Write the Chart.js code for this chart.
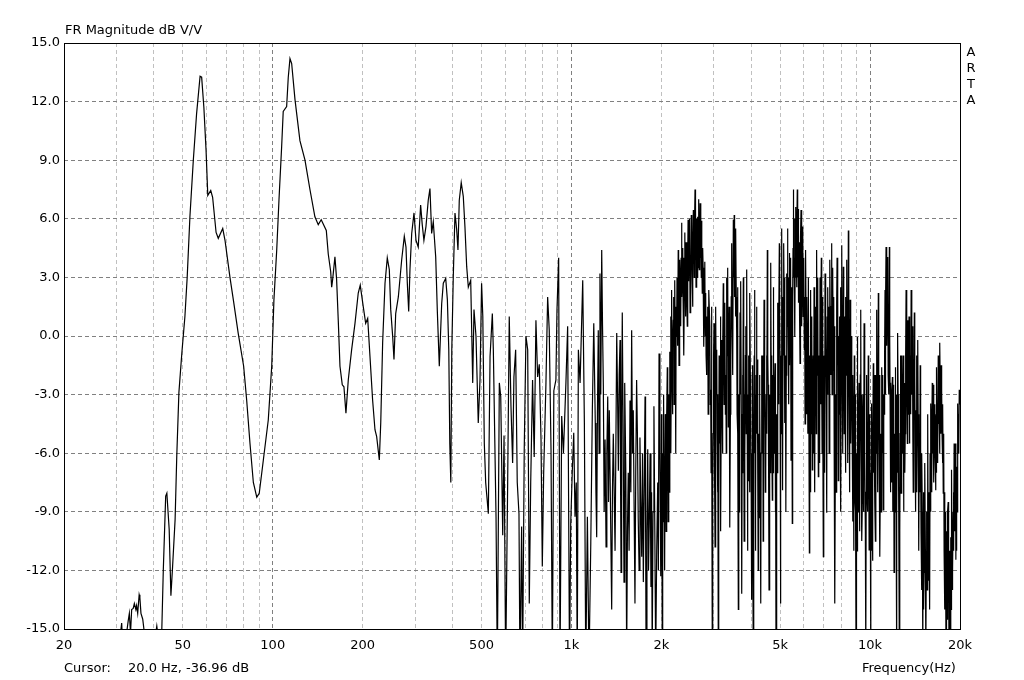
<!DOCTYPE html>
<html><head><meta charset="utf-8">
<script src="https://cdn.jsdelivr.net/npm/chart.js@4.4.1/dist/chart.umd.min.js"></script>
<style>
html,body{margin:0;padding:0;background:#fff;}
#wrap{position:relative;width:1024px;height:680px;overflow:hidden;font-family:"DejaVu Sans",sans-serif;font-size:13px;color:#000;background:#fff;}
#c{position:absolute;left:0;top:0;}
.t{position:absolute;line-height:15px;white-space:pre;}
</style></head><body>
<div id="wrap">
<canvas id="c" width="1024" height="680"></canvas>
<div class="t" style="left:65px;top:22px">FR Magnitude dB V/V</div>
<div class="t" style="left:963px;top:44px;width:16px;text-align:center;line-height:16px">A<br>R<br>T<br>A</div>
<div class="t" style="left:64px;top:660px">Cursor:</div>
<div class="t" style="left:128px;top:660px">20.0 Hz, -36.96 dB</div>
<div class="t" style="left:862px;top:660px">Frequency(Hz)</div>
</div>
<script>
// Low band 20 Hz - 500 Hz
const lowFreq = [
 20, 24, 28, 30.5, 31.2, 31.6, 32.8, 33.1, 33.4, 33.7,
 34.1, 34.4, 34.8, 35.0, 35.3, 35.7, 35.9, 36.2, 36.7, 37.1,
 38.5, 40.5, 40.9, 41.4, 42.5, 43.0, 43.8, 44.2, 45.0, 45.6,
 46.2, 47.1, 47.7, 48.5, 49.6, 50.8, 51.7, 52.8, 54.2, 55.6,
 57.1, 57.8, 58.8, 59.8, 60.6, 62.0, 62.9, 64.6, 65.7, 68.0,
 69.2, 71.9, 73.8, 76.6, 79.9, 81.8, 83.9, 86.1, 88.4, 90.1,
 93.0, 96.6, 99.2, 100.9, 103.1, 104.9, 107.1, 108.4, 111.3, 112.7,
 114.2, 115.7, 118.7, 123.3, 128.2, 133.2, 138.4, 142.0, 145.3, 151.1,
 153.4, 156.3, 157.5, 158.7, 161.5, 163.6, 165.7, 167.9, 170.9, 173.1,
 175.8, 179.0, 183.7, 188.5, 193.3, 196.3, 200.9, 204.7, 207.9, 211.6,
 216.0, 219.9, 222.8, 227.4, 229.9, 233.3, 237.6, 241.8, 245.6, 248.3,
 252.0, 254.6, 258.0, 263.3, 270.2, 275.7, 279.3, 282.2, 285.2, 288.0,
 291.9, 297.1, 301.7, 307.0, 312.7, 316.6, 320.7, 325.8, 331.6, 336.0,
 340.4, 344.7, 351.2, 355.5, 361.1, 367.8, 372.4, 379.4, 384.3, 388.5,
 391.5, 394.6, 397.6, 402.2, 407.5, 412.8, 417.0, 421.2, 427.6, 434.4,
 440.0, 446.0, 451.6, 460.0, 467.2, 471.8, 479.1, 487.6, 494.2
];
const lowDb = [
 -36.96, -28, -20, -16, -14.7, -16.5, -14.6, -14.2, -15.2, -14.0,
 -13.95, -13.7, -14.0, -13.8, -14.2, -13.25, -13.4, -14.2, -14.5, -15.1,
 -17, -15.3, -14.85, -15.5, -15.1, -12.0, -8.2, -8.05, -9.9, -13.3,
 -11.8, -9.4, -6.2, -2.9, -0.9, 1.0, 3.0, 6.1, 9.0, 11.4,
 13.3, 13.25, 11.7, 9.5, 7.2, 7.45, 7.1, 5.3, 5.0, 5.5,
 4.9, 3.0, 1.85, 0.15, -1.55, -3.3, -5.5, -7.5, -8.25, -8.05,
 -6.35, -4.3, -1.55, 1.85, 4.4, 6.95, 9.7, 11.5, 11.75, 13.25,
 14.2, 13.95, 12.1, 10.0, 9.0, 7.5, 6.1, 5.7, 5.95, 5.4,
 4.2, 3.3, 2.5, 2.9, 4.05, 2.9, 0.8, -1.55, -2.5, -2.6,
 -3.95, -2.25, -0.7, 0.65, 2.2, 2.6, 1.5, 0.65, 0.9, -1.05,
 -3.3, -4.8, -5.15, -6.35, -4.45, -0.35, 2.7, 4.0, 3.4, 1.35,
 0.0, -1.2, 1.15, 2.0, 3.9, 5.1, 4.55, 2.7, 1.25, 3.4,
 5.25, 6.3, 4.9, 4.55, 6.7, 5.7, 4.9, 5.6, 6.95, 7.55,
 5.25, 5.85, 4.05, 1.35, -1.55, 1.65, 2.7, 2.95, 1.85, -0.7,
 -5.5, -7.5, -0.7, 3.05, 6.3, 5.45, 4.4, 6.95, 7.85, 7.15,
 5.6, 3.55, 2.5, 2.85, -2.4, 1.35, 0.0, -4.45, -2.25
];
// Mid band 500 Hz - 2 kHz
const midFreq = [
 500.3, 505, 510.9, 516.3, 527.0, 534.0, 543.5, 547.7, 559.2, 564.8,
 573.6, 579.9, 588.8, 594.8, 602.3, 611.7, 619.2, 627.5, 635.5, 641.9,
 650.5, 658.6, 667.4, 672.4, 681.2, 686.3, 695, 704.3, 713.8, 722.6,
 730.6, 741.1, 750.6, 760.6, 770.6, 780.5, 791.0, 798.9, 807.4, 821.7,
 832.5, 842.8, 854.4, 863.1, 873.2, 887.3, 894.5, 906.3, 915.8, 927.7,
 940.3, 958.4, 971.3, 985.5, 994.6, 1007, 1018, 1028, 1038, 1046,
 1055, 1069, 1091, 1105, 1117, 1131, 1145, 1161, 1175, 1188,
 1202, 1208, 1215, 1222, 1230, 1238, 1246, 1254, 1263, 1271,
 1279, 1287, 1296, 1306, 1314, 1323, 1331, 1339, 1352, 1364,
 1372, 1381, 1400, 1418, 1427, 1436, 1445, 1455, 1460, 1466,
 1473, 1480, 1490, 1500, 1505, 1511, 1521, 1531, 1540, 1550,
 1560, 1571, 1581, 1591, 1601, 1611, 1622, 1632, 1642, 1653,
 1663, 1674, 1685, 1696, 1707, 1719, 1730, 1741, 1752, 1764,
 1771, 1778, 1790, 1801, 1812, 1823, 1834, 1846, 1855, 1864,
 1876, 1889, 1902, 1915, 1930, 1945, 1955, 1965, 1978, 1991
];
const midDb = [
 2.7, 1.0, -5.5, -7.5, -9.1, -1.05, 1.15, -0.7, -9.25, -17,
 -2.4, -3.1, -10.2, -5.1, -17, -7.5, 1.0, -3.6, -6.5, -2.1,
 -0.7, -7.5, -9.1, -17, -9.75, -17, -5.85, 0.0, -0.7, -13.7,
 -7.5, -2.25, -6.2, 0.8, -2.1, -1.45, -5.3, -11.8, -7.0, -2.4,
 2.0, 0.3, -5.8, -17, -2.8, -2.25, 1.3, 4.0, -17, -4.1,
 -6.0, -2.4, 0.5, -17, -9.6, -6.85, -4.95, -9.25, -7.5, -17,
 -0.7, -2.4, 2.85, -4.45, -17, -9.25, -17, -10.6, -3.8, 0.65,
 -4.45, -8.0, -10.3, -4.0, 0.3, -6.0, 3.2, -3.0, 4.4, 0.5,
 -2.6, -9.0, -5.3, -10.8, -6.0, -3.1, -8.5, -3.8, -9.0, -14.0,
 -8.0, -5.0, -11.0, 0.15, -3.0, -6.9, -2.0, -0.2, -7.0, -12.1,
 -4.0, 1.2, -5.0, -12.6, -8.0, -2.4, -7.0, -16.5, -10.0, -7.0,
 -11.0, -3.3, -8.0, 0.3, -6.0, -3.8, -9.0, -13.7, -7.0, -2.25,
 -5.0, -9.4, -12.0, -5.2, -8.5, -11.3, -6.0, -12.6, -8.0, -3.1,
 -9.0, -16.5, -10.0, -5.8, -12.0, -9.3, -6.0, -12.85, -8.0, -16.5,
 -9.0, -3.6, -10.0, -16.5, -11.0, -7.5, -12.0, -0.9, -6.0, -12.3
];
// 2.0 - 2.16 kHz
const hiAFreq = [
 2003, 2009, 2015, 2021, 2028, 2035, 2042, 2048, 2055, 2062,
 2069, 2075, 2081, 2088, 2094, 2101, 2107, 2114, 2121, 2126,
 2132, 2138, 2143, 2149, 2154, 2160
];
const hiADb = [
 -4.0, -10.0, -16.5, -6.0, -9.5, -3.0, -7.5, -11.0, -12.0, -4.0,
 -5.3, -10.0, -8.0, -4.0, -1.6, -6.0, -9.5, -3.0, -5.0, -8.0,
 -0.8, -5.0, -2.4, 1.0, -6.0, -2.0
];
// 2.16 - 2.9 kHz
const hiBFreq = [
 2165, 2172, 2179, 2186, 2193, 2200, 2207, 2214, 2221, 2228,
 2235, 2242, 2250, 2257, 2264, 2271, 2278, 2285, 2292, 2300,
 2307, 2315, 2322, 2330, 2337, 2344, 2351, 2359, 2366, 2374,
 2381, 2389, 2397, 2405, 2412, 2420, 2428, 2436, 2443, 2451,
 2458, 2468, 2477, 2487, 2496, 2504, 2512, 2520, 2529, 2537,
 2544, 2552, 2560, 2568, 2576, 2585, 2593, 2598, 2603, 2608,
 2613, 2622, 2630, 2639, 2647, 2655, 2663, 2672, 2680, 2689,
 2697, 2706, 2715, 2721, 2728, 2735, 2742, 2751, 2760, 2769,
 2778, 2787, 2796, 2806, 2815, 2824, 2832, 2841, 2850, 2860,
 2869, 2878, 2888
];
const hiBDb = [
 2.35, -1.0, -4.0, -0.5, 0.8, 2.0, -3.5, 0.0, 2.85, -1.0,
 -6.0, 1.5, -0.05, 3.0, 1.0, -0.5, 4.4, 2.0, -1.5, 1.5,
 3.9, 2.5, 0.5, 4.0, 5.8, 2.0, 3.0, 4.5, 1.7, 4.0,
 -1.0, 2.5, 5.3, 3.0, 1.0, 4.8, 3.9, 2.0, 0.5, 4.0,
 5.95, 2.8, 4.5, 6.0, 1.2, 3.8, 2.0, 6.2, 5.4, 3.0,
 1.5, 4.5, 6.45, 4.5, 3.0, 6.0, 7.5, 4.0, 5.0, 6.5,
 2.5, 6.0, 4.5, 3.0, 6.1, 3.5, 5.8, 7.0, 3.4, 5.0,
 6.8, 4.0, 5.3, 3.0, 5.9, 4.0, 2.2, 4.5, 3.5, 1.0,
 -0.55, 2.0, 3.8, 0.0, 2.2, -1.0, -2.0, 1.0, -1.2, 1.5,
 -4.0, 0.0, 2.35
];
// 2.9 - 5.0 kHz
const hiCFreq = [
 2907, 2916, 2926, 2935, 2944, 2953, 2963, 2972, 2982, 2992,
 3002, 3008, 3014, 3020, 3026, 3035, 3045, 3055, 3065, 3074,
 3084, 3093, 3103, 3113, 3123, 3133, 3144, 3154, 3164, 3174,
 3185, 3194, 3204, 3214, 3224, 3234, 3245, 3256, 3267, 3277,
 3288, 3299, 3310, 3320, 3330, 3341, 3351, 3362, 3373, 3384,
 3395, 3406, 3417, 3428, 3440, 3451, 3462, 3473, 3484, 3496,
 3507, 3518, 3530, 3541, 3553, 3564, 3576, 3587, 3598, 3610,
 3621, 3633, 3645, 3657, 3669, 3681, 3693, 3705, 3717, 3728,
 3740, 3751, 3763, 3775, 3787, 3799, 3812, 3824, 3837, 3849,
 3862, 3874, 3886, 3898, 3910, 3922, 3935, 3947, 3960, 3973,
 3986, 3999, 4012, 4024, 4037, 4049, 4062, 4072, 4083, 4093,
 4104, 4113, 4122, 4131, 4141, 4153, 4166, 4179, 4192, 4206,
 4220, 4234, 4248, 4262, 4276, 4290, 4304, 4317, 4330, 4343,
 4357, 4371, 4385, 4399, 4414, 4428, 4443, 4458, 4473, 4486,
 4500, 4514, 4528, 4543, 4558, 4573, 4588, 4603, 4618, 4633,
 4648, 4662, 4677, 4691, 4706, 4715, 4724, 4733, 4742, 4757,
 4773, 4789, 4805, 4814, 4823, 4832, 4842, 4858, 4874, 4890,
 4906, 4921, 4936, 4951, 4967, 4980, 4993, 5006
];
const hiCDb = [
 0.5, -3.5, -2.75, -7.0, 1.5, -4.0, -16.5, -8.0, -5.0, -1.0,
 0.65, -4.0, -3.0, -7.0, -10.8, -4.0, 1.5, -3.0, -0.7, -5.0,
 -8.0, -3.0, -16.5, -6.0, -1.0, -5.5, -2.4, 1.0, -10.0, -4.0,
 -0.2, -3.0, -6.0, -1.0, 2.7, -1.5, -3.5, -0.5, 1.7, -4.0,
 -2.0, -6.0, 3.0, -1.0, 0.5, 3.5, -4.65, -1.0, 1.5, -3.0,
 -9.8, -4.0, -1.0, 2.0, 4.75, 1.0, 2.5, -2.0, 5.95, 3.0,
 6.2, 2.0, 4.05, 1.0, 5.5, 2.0, 0.15, -4.0, 2.5, -5.0,
 -14.0, -3.0, -9.0, -4.0, 1.2, -3.0, 2.8, -4.0, -13.2, -7.0,
 -2.0, -6.0, 3.0, -2.0, -10.5, -3.0, -6.35, -1.0, 0.5, -5.0,
 3.4, -3.0, -11.0, -4.0, -7.4, -1.0, -4.0, -8.0, 2.2, -2.0,
 -3.5, -8.0, -13.5, -6.0, -1.5, -9.0, -16.5, -9.0, -5.0, -1.0,
 2.35, -6.0, -3.0, -11.0, -8.55, -2.0, 1.5, -5.0, -1.2, -7.0,
 -12.0, -5.0, -9.3, -2.0, -3.5, -8.0, -13.7, -6.0, -1.0, -6.0,
 -4.45, -1.0, -10.5, -5.0, 1.85, -4.0, -2.5, -8.0, -6.85, -3.0,
 -1.0, -5.0, 4.4, -1.0, -2.5, -7.0, -13.0, -6.0, -3.0, -7.0,
 3.75, -1.0, -2.0, -5.0, -8.4, -2.0, -4.0, -7.0, 2.5, -1.5,
 -6.0, -3.0, -1.4, -5.0, -9.0, -4.0, -16.5, -8.0, -4.0, -7.0,
 1.7, -2.0, -3.5, 0.5, 4.75, 1.0, -1.0, -5.0
];
// 5.0 - 6.2 kHz
const hiDFreq = [
 5019, 5028, 5038, 5048, 5058, 5068, 5078, 5088, 5098, 5111,
 5124, 5136, 5149, 5159, 5169, 5179, 5189, 5206, 5223, 5240,
 5258, 5274, 5290, 5306, 5323, 5333, 5343, 5353, 5364, 5382,
 5400, 5418, 5435, 5448, 5462, 5475, 5489, 5500, 5510, 5521,
 5532, 5550, 5568, 5586, 5604, 5615, 5626, 5637, 5648, 5662,
 5676, 5690, 5705, 5716, 5727, 5738, 5749, 5768, 5787, 5806,
 5826, 5837, 5848, 5860, 5871, 5890, 5910, 5930, 5949, 5968,
 5986, 6004, 6023, 6040, 6056, 6072, 6089, 6108, 6127, 6146,
 6165, 6189, 6213
];
const hiDDb = [
 -13.7, -2.0, -5.0, 1.0, 3.9, 5.5, -2.0, 2.0, -7.9, 0.5,
 -1.0, 2.0, 4.75, 1.0, -0.5, 3.0, -4.45, -1.0, -9.0, -2.0,
 3.2, 0.5, 5.5, 2.0, -1.1, 3.0, -3.5, 1.0, 4.25, -1.5,
 2.0, 4.0, -6.35, 1.0, -2.0, 2.5, -9.6, -3.0, 2.0, 4.5,
 7.5, 3.0, 4.0, 6.0, -0.05, 4.5, 3.0, 5.0, 6.6, 4.0,
 2.5, 5.5, 7.5, 3.0, 4.0, 6.5, 1.7, 3.0, 4.8, 1.0,
 -1.4, 3.5, 2.0, 5.0, 6.45, 2.5, 0.5, 3.5, 5.6, 1.0,
 2.0, 4.0, -0.7, 2.0, -4.5, 1.0, 4.4, 0.5, -4.0, 2.0,
 -1.4, -5.0, 3.0
];
// 6.2 - 10 kHz
const hiEFreq = [
 6262, 6279, 6296, 6313, 6330, 6349, 6368, 6387, 6406, 6427,
 6448, 6470, 6491, 6512, 6534, 6556, 6577, 6590, 6602, 6615,
 6628, 6648, 6668, 6689, 6709, 6731, 6753, 6776, 6798, 6821,
 6843, 6866, 6888, 6909, 6930, 6952, 6973, 6996, 7019, 7042,
 7065, 7088, 7111, 7135, 7158, 7180, 7202, 7224, 7246, 7270,
 7293, 7317, 7341, 7365, 7389, 7413, 7437, 7460, 7483, 7507,
 7530, 7555, 7579, 7603, 7628, 7653, 7678, 7703, 7729, 7753,
 7778, 7802, 7827, 7852, 7878, 7904, 7930, 7956, 7983, 8010,
 8037, 8061, 8086, 8111, 8136, 8162, 8189, 8216, 8243, 8270,
 8297, 8324, 8351, 8377, 8403, 8429, 8456, 8484, 8512, 8540,
 8568, 8596, 8625, 8653, 8682, 8710, 8737, 8765, 8793, 8822,
 8852, 8881, 8911, 8926, 8941, 8956, 8972, 8994, 9017, 9040,
 9063, 9092, 9122, 9152, 9182, 9212, 9243, 9273, 9304, 9333,
 9362, 9391, 9421, 9452, 9484, 9515, 9547, 9578, 9610, 9642,
 9674, 9704, 9735, 9765, 9795, 9828, 9860, 9893, 9926, 9956,
 9986, 10016
];
const hiEDb = [
 -11.1, -1.0, -4.0, -8.0, 2.35, -5.0, -1.5, 1.0, -6.85, -3.0,
 -1.0, -6.0, 2.5, -2.0, -8.0, 1.0, -2.1, 1.5, -5.0, -1.0,
 4.4, -2.0, 0.5, 3.0, -7.2, -1.0, -3.0, -6.5, 3.0, -3.5,
 0.5, 4.0, -2.75, -6.0, 2.0, -4.0, -11.3, -1.0, -4.0, -7.0,
 3.2, -2.0, 0.5, -4.0, -9.05, 1.0, -3.0, 2.5, -1.6, 1.5,
 -6.0, -1.0, 3.9, 0.0, -2.0, 1.5, 4.75, -3.0, 0.0, 3.5,
 -1.75, 2.0, -5.0, 0.5, -13.7, -6.0, -3.0, -8.0, 1.7, 4.0,
 -1.5, 2.0, -7.4, 0.0, -4.0, 1.0, -2.9, 2.5, -9.0, -2.0,
 4.65, 0.0, -2.0, -6.0, 3.55, 0.5, -5.0, 1.0, -3.3, -7.0,
 2.0, -2.0, 3.9, 0.0, -1.0, -6.5, 5.4, 1.0, -4.0, -8.0,
 1.85, -2.0, -5.5, 0.0, -2.75, -5.0, -9.5, -2.0, -5.85, -11.0,
 -1.0, -4.0, -8.55, -4.5, -3.0, -9.0, -16.5, -9.0, -6.0, -11.0,
 -0.05, -5.0, -9.0, -4.0, -2.4, -10.0, -7.0, -2.0, 1.35, -6.0,
 -3.0, -10.5, -8.55, -4.0, -3.0, -9.0, 0.65, -4.0, -6.0, -10.0,
 -16.5, -8.0, -2.0, -8.0, -5.85, -9.0, -1.0, -6.0, -10.95, -6.0,
 -4.0, -9.0
];
// 10 - 20 kHz
const hiFFreq = [
 10047, 10066, 10085, 10104, 10124, 10155, 10187, 10218, 10250, 10283,
 10317, 10351, 10385, 10419, 10453, 10487, 10522, 10555, 10588, 10621,
 10655, 10689, 10724, 10758, 10793, 10829, 10865, 10901, 10937, 10971,
 11005, 11039, 11074, 11110, 11147, 11184, 11221, 11243, 11265, 11287,
 11309, 11346, 11384, 11421, 11459, 11494, 11530, 11566, 11602, 11633,
 11665, 11697, 11729, 11765, 11802, 11839, 11876, 11914, 11952, 11990,
 12028, 12058, 12088, 12118, 12149, 12181, 12214, 12247, 12280, 12303,
 12327, 12351, 12375, 12413, 12452, 12491, 12530, 12571, 12613, 12654,
 12696, 12738, 12780, 12822, 12865, 12905, 12945, 12985, 13025, 13068,
 13111, 13154, 13198, 13241, 13285, 13329, 13373, 13415, 13457, 13499,
 13541, 13586, 13631, 13676, 13722, 13767, 13813, 13859, 13905, 13945,
 13985, 14025, 14065, 14111, 14157, 14203, 14250, 14297, 14344, 14391,
 14438, 14483, 14528, 14573, 14618, 14666, 14715, 14763, 14812, 14861,
 14911, 14960, 15010, 15048, 15087, 15125, 15164, 15215, 15266, 15317,
 15368, 15417, 15466, 15515, 15564, 15616, 15668, 15720, 15772, 15825,
 15878, 15931, 15984, 16025, 16066, 16107, 16149, 16201, 16254, 16307,
 16360, 16413, 16467, 16520, 16574, 16606, 16638, 16670, 16703, 16755,
 16807, 16859, 16911, 16966, 17022, 17078, 17134, 17190, 17247, 17304,
 17361, 17415, 17469, 17523, 17577, 17635, 17693, 17751, 17809, 17846,
 17883, 17920, 17958, 18003, 18049, 18094, 18140, 18200, 18260, 18320,
 18380, 18441, 18502, 18563, 18625, 18661, 18698, 18735, 18772, 18809,
 18846, 18883, 18920, 18968, 19017, 19066, 19115, 19179, 19243, 19307,
 19372, 19410, 19449, 19487, 19526, 19565, 19604, 19643, 19682, 19733,
 19784, 19835, 19886, 19943, 20000
];
const hiFDb = [
 -16.5, -10.0, -7.0, -11.0, -3.45, -8.0, -11.5, -6.0, -1.4, -7.0,
 -5.0, -2.0, -8.55, -10.5, -2.0, -6.0, 1.35, -4.0, -3.5, -8.0,
 2.2, -2.0, -6.0, -2.0, -11.3, -7.0, -5.0, -9.0, -1.6, -4.0,
 -6.0, -2.0, -8.9, -3.0, -4.0, -1.0, 2.35, -3.0, -1.0, 1.5,
 4.55, 1.5, -0.5, 2.5, 4.05, -2.0, 0.5, -3.0, 4.55, 0.0,
 -3.0, -8.0, -2.4, -4.0, -7.5, -3.0, -2.1, -9.0, -6.0, -2.5,
 -12.1, -7.0, -5.0, -9.0, -1.6, -5.0, -8.0, -3.0, -16.5, -9.0,
 -4.0, -7.0, 0.15, -3.0, -6.0, -9.0, -16.5, -10.0, -5.0, -1.0,
 -8.05, -4.0, -1.0, -6.0, -3.95, -1.0, -9.0, -5.0, -2.4, -7.0,
 -5.0, -1.0, 2.35, -2.0, -3.0, -5.5, 0.8, -4.0, -2.0, 1.0,
 -5.5, -2.5, -1.0, -4.0, 2.35, -2.0, -3.0, 0.5, -5.2, -8.0,
 -1.5, -4.0, 1.2, -2.0, -6.0, -9.0, -3.8, -1.0, -8.0, -4.0,
 -0.2, -4.0, -8.5, -11.0, -5.3, -8.0, -1.5, -6.0, -10.1, -13.0,
 -6.0, -9.0, -16.5, -11.0, -8.0, -14.0, -12.1, -8.0, -6.5, -11.0,
 -16.5, -12.0, -9.0, -13.0, -7.2, -4.0, -12.5, -8.0, -10.8, -14.0,
 -6.0, -9.0, -3.45, -6.0, -8.0, -5.0, -2.4, -6.0, -5.0, -2.5,
 -7.5, -5.0, -3.5, -6.0, -7.9, -5.5, -4.0, -7.0, -1.6, -5.5,
 -4.0, -6.5, -1.0, -4.5, -3.5, -6.0, -0.35, -3.0, -5.0, -1.5,
 -2.75, -5.0, -6.5, -3.5, -8.05, -5.0, -11.0, -8.0, -14.0, -11.0,
 -9.0, -12.0, -16.5, -12.0, -10.0, -14.5, -12.6, -9.0, -8.5, -12.0,
 -16.5, -11.0, -13.0, -15.5, -10.3, -14.0, -13.5, -9.0, -6.85, -11.0,
 -9.5, -13.0, -12.1, -9.0, -8.0, -11.0, -5.5, -10.0, -8.0, -5.5,
 -11.45, -8.0, -9.0, -11.0, -6.7, -9.0, -5.0, -7.0, -3.45, -6.0,
 -4.0, -6.0, -2.75, -3.5, -3.0
];

// Axis grid and tick labels
const gridFreqs = [20,30,40,50,60,70,80,90,100,200,300,400,500,600,700,800,900,
  1000,2000,3000,4000,5000,6000,7000,8000,9000,10000,20000];
const majorFreqs = [100,1000,10000];
const labelFreqs = [20,50,100,200,500,1000,2000,5000,10000,20000];
const labelTexts = ['20','50','100','200','500','1k','2k','5k','10k','20k'];
const yMin = -15, yMax = 15, yStep = 3;

const freqs = lowFreq.concat(midFreq, hiAFreq, hiBFreq, hiCFreq, hiDFreq, hiEFreq, hiFFreq);
const dbs = lowDb.concat(midDb, hiADb, hiBDb, hiCDb, hiDDb, hiEDb, hiFDb);
const points = freqs.map((f, i) => ({x: f, y: dbs[i]}));

const frame = {
  id: 'frame',
  afterDraw(chart) {
    const {ctx, chartArea: a} = chart;
    ctx.save();
    ctx.strokeStyle = '#000';
    ctx.lineWidth = 1;
    ctx.setLineDash([]);
    ctx.strokeRect(Math.round(a.left) + 0.5, Math.round(a.top) + 0.5,
      Math.round(a.right - a.left), Math.round(a.bottom - a.top));
    ctx.restore();
  }
};

const font = {family: 'DejaVu Sans', size: 13};

new Chart(document.getElementById('c'), {
  type: 'line',
  data: {datasets: [{data: points, borderColor: '#000', borderWidth: 1.2,
    pointRadius: 0, fill: false, tension: 0}]},
  options: {
    responsive: false, animation: false, devicePixelRatio: 1,
    layout: {padding: {top: 43, right: 64, bottom: 0, left: 0}},
    plugins: {legend: {display: false}, tooltip: {enabled: false}},
    scales: {
      x: {
        type: 'logarithmic', min: 20, max: 20000,
        afterBuildTicks: s => { s.ticks = gridFreqs.map(v => ({value: v})); },
        afterFit: s => { s.height = 51; },
        grid: {drawTicks: false, lineWidth: 1,
          color: c => (c.tick && majorFreqs.includes(c.tick.value)) ? '#808080' : '#c0c0c0'},
        border: {display: false, dash: [4, 3]},
        ticks: {autoSkip: false, maxRotation: 0, minRotation: 0, padding: 9, color: '#000', font,
          callback: v => { const i = labelFreqs.indexOf(v); return i >= 0 ? labelTexts[i] : ''; }}
      },
      y: {
        min: yMin, max: yMax,
        afterFit: s => { s.width = 64; },
        grid: {drawTicks: false, lineWidth: 1, color: '#808080'},
        border: {display: false, dash: [4, 3]},
        ticks: {stepSize: yStep, padding: 4, color: '#000', font,
          callback: v => Number(v).toFixed(1)}
      }
    }
  },
  plugins: [frame]
});
</script>
</body></html>
